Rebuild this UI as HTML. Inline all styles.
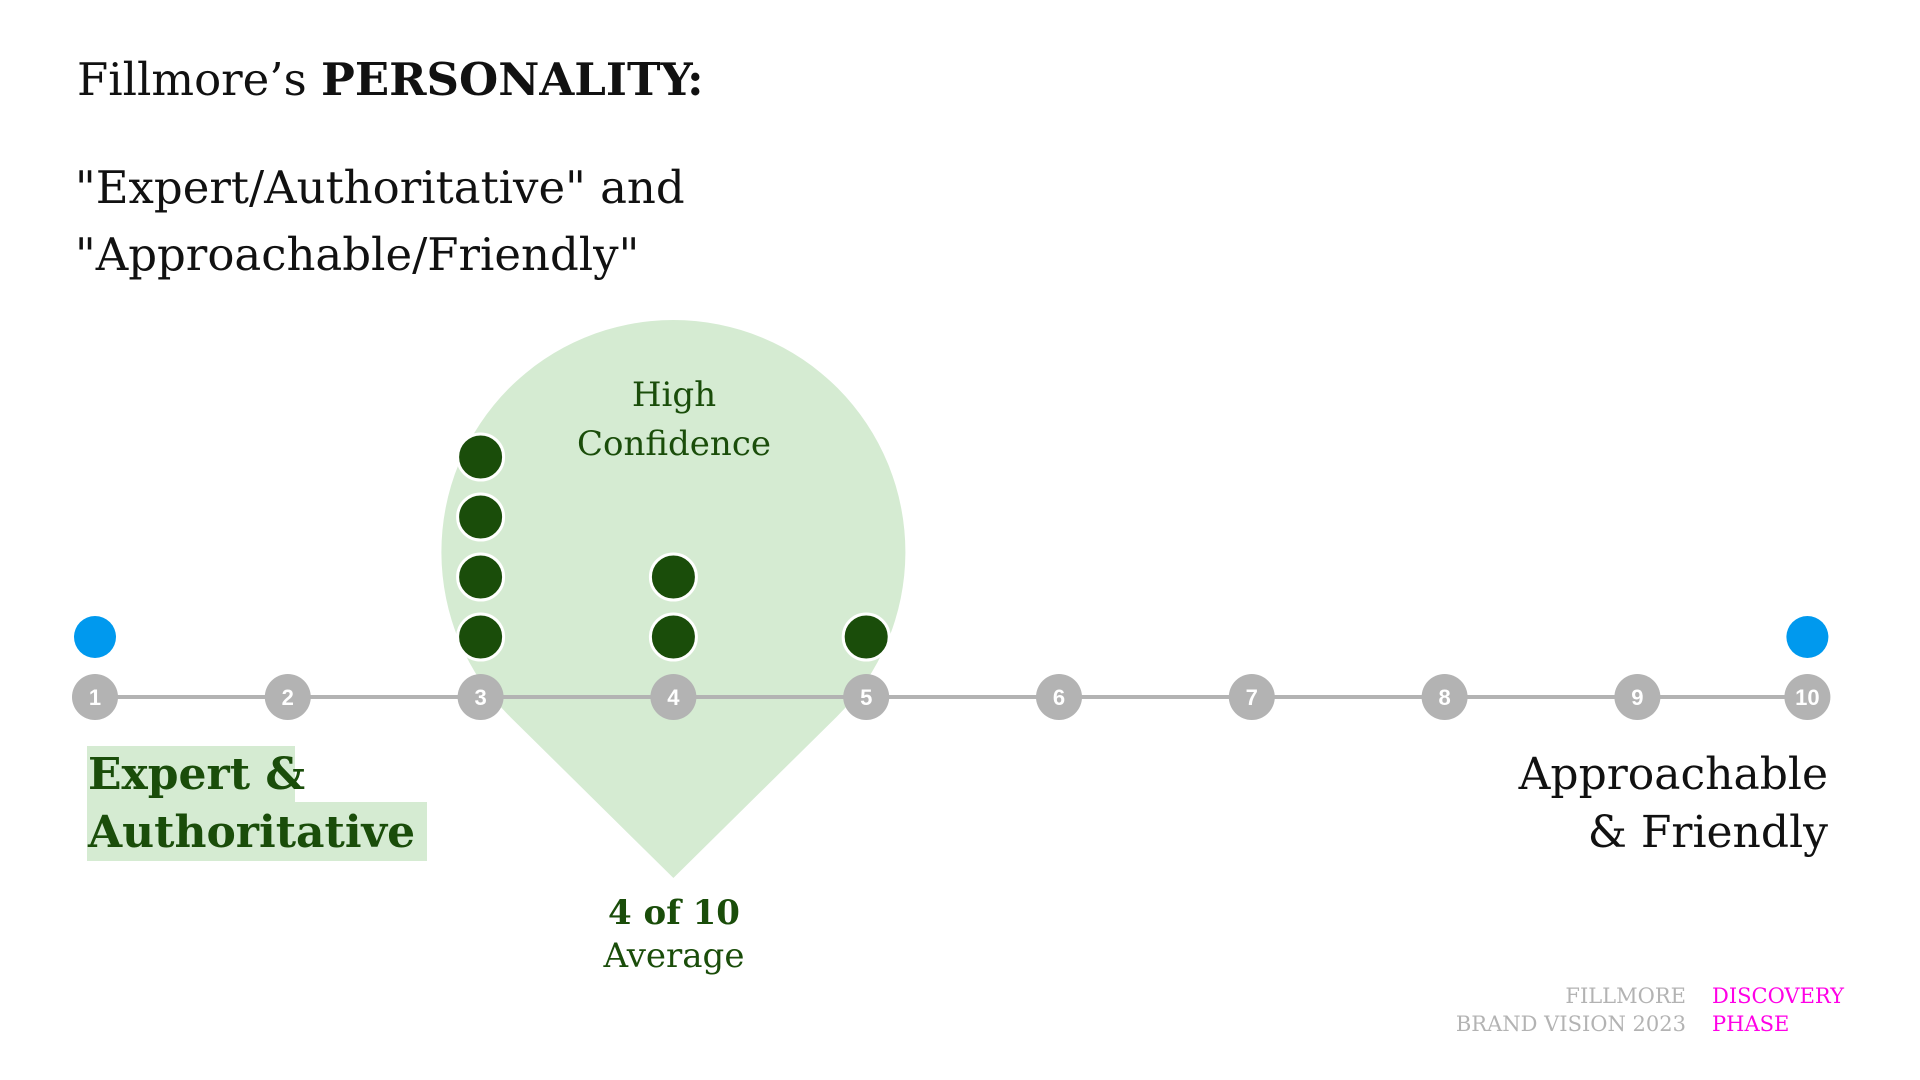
<!DOCTYPE html>
<html><head><meta charset="utf-8"><style>
body{margin:0;width:1920px;height:1080px;background:#fff;overflow:hidden;font-family:"DejaVu Serif","Liberation Serif",serif}
svg{position:absolute;left:0;top:0}
</style></head><body>
<svg id="chart" width="1920" height="1080">
<text x="77" y="95" font-size="45" fill="#111">Fillmore’s <tspan font-weight="bold">PERSONALITY:</tspan></text>
<text x="75" y="203" font-size="45" fill="#111">"Expert/Authoritative" and</text>
<text x="75" y="270" font-size="45" fill="#111">"Approachable/Friendly"</text>
<g id="drop"></g>
<g id="axis"></g>
<g id="dots"></g>
<rect x="87" y="746" width="208" height="58" fill="#d5ebd2"/>
<rect x="87" y="802" width="340" height="59" fill="#d5ebd2"/>
<text x="88" y="789" font-size="44" font-weight="bold" fill="#1a4d0a">Expert &amp;</text>
<text x="88" y="847" font-size="44" font-weight="bold" fill="#1a4d0a">Authoritative</text>
<text x="1828" y="789" font-size="44" text-anchor="end" fill="#111">Approachable</text>
<text x="1828" y="847" font-size="44" text-anchor="end" fill="#111">&amp; Friendly</text>
<text x="674" y="924" font-size="34" font-weight="bold" text-anchor="middle" fill="#1a4d0a">4 of 10</text>
<text x="674" y="967" font-size="34" text-anchor="middle" fill="#1a4d0a">Average</text>
<text x="674" y="406" font-size="34" text-anchor="middle" fill="#1a4d0a">High</text>
<text x="674" y="455" font-size="34" text-anchor="middle" fill="#1a4d0a">Confidence</text>
<text x="1686" y="1003" font-size="21" text-anchor="end" fill="#b3b3b3">FILLMORE</text>
<text x="1686" y="1031" font-size="21" text-anchor="end" fill="#b3b3b3">BRAND VISION 2023</text>
<text x="1712" y="1003" font-size="21" fill="#ff00e6">DISCOVERY</text>
<text x="1712" y="1031" font-size="21" fill="#ff00e6">PHASE</text>
</svg>
<script>
const scaleTicks=[1,2,3,4,5,6,7,8,9,10];
const responseScores=[3,4,5];
const responseCounts=[4,2,1];
const anchorScores=[1,10];
const anchorCounts=[1,1];
const averageScore=4;
const NS="http://www.w3.org/2000/svg";
const xPos=v=>v<=9?95+(v-1)*192.8:95+8*192.8+(v-9)*170;
const lineY=697;
const yPos=i=>637-i*60;
function mk(t,a,p){const e=document.createElementNS(NS,t);for(const k in a)e.setAttribute(k,a[k]);p.appendChild(e);return e;}
const drop=document.getElementById('drop');
const cx=xPos(averageScore), cy=552, r=232, py=878;
const d=py-cy, ang=Math.acos(r/d);
const tx1=cx-r*Math.sin(ang), ty1=cy+r*Math.cos(ang), tx2=cx+r*Math.sin(ang);
const dp=mk('path',{d:`M${cx},${py} L${tx1},${ty1} A${r},${r} 0 1 1 ${tx2},${ty1} Z`,fill:'#d5ebd2'},drop);


const axis=document.getElementById('axis');
const ln=mk('line',{x1:xPos(scaleTicks[0]),x2:xPos(scaleTicks[scaleTicks.length-1]),y1:lineY,y2:lineY,stroke:'#b3b3b3','stroke-width':4},axis);


scaleTicks.forEach(t=>{
 const c=mk('circle',{cx:xPos(t),cy:lineY,r:23,fill:'#b3b3b3'},axis);
 
 
 const tx=mk('text',{x:xPos(t),y:lineY+8,'text-anchor':'middle','font-size':22,'font-weight':'bold',fill:'#fff','font-family':'Liberation Sans, sans-serif'},axis);
 tx.textContent=t;
 
 
});
const dots=document.getElementById('dots');
responseScores.forEach((s,k)=>{
 for(let i=0;i<responseCounts[k];i++){
  const c=mk('circle',{cx:xPos(s),cy:yPos(i),r:23,fill:'#1a4d0a',stroke:'#fff','stroke-width':3},dots);
  
  
 }
});
anchorScores.forEach((s,k)=>{
 for(let i=0;i<anchorCounts[k];i++){
  const c=mk('circle',{cx:xPos(s),cy:yPos(i),r:21,fill:'#0099ee'},dots);
  
  
 }
});
</script>
</body></html>
